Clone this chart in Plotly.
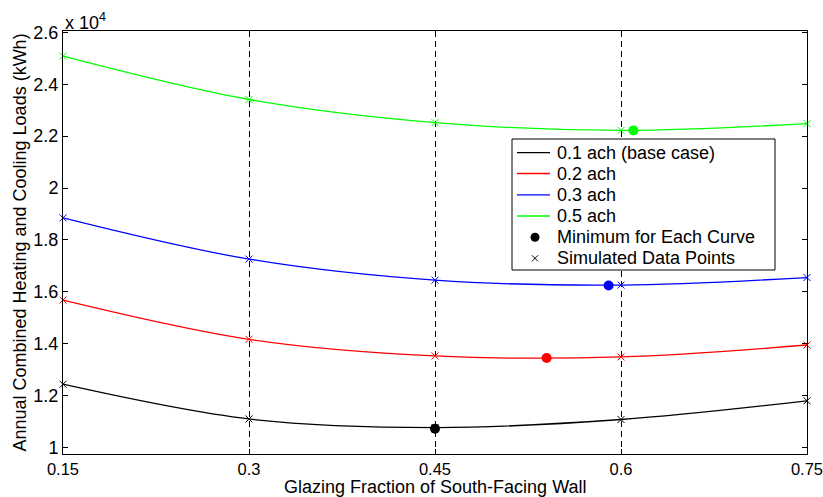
import plotly.graph_objects as go

glazing = [0.15, 0.30, 0.45, 0.60, 0.75]
load_01 = [1.244, 1.110, 1.077, 1.108, 1.180]
load_02 = [1.568, 1.417, 1.353, 1.349, 1.395]
load_03 = [1.885, 1.726, 1.645, 1.626, 1.655]
load_05 = [2.508, 2.341, 2.252, 2.222, 2.248]

min_x = [0.45, 0.54, 0.59, 0.61]
min_y = [1.072, 1.345, 1.624, 2.222]

names = ["0.1 ach (base case)", "0.2 ach", "0.3 ach", "0.5 ach"]
colors = ["#000000", "#FF0000", "#0000FF", "#00FF00"]
series = [load_01, load_02, load_03, load_05]
legend_extra = ["Minimum for Each Curve", "Simulated Data Points"]

x_ticks = [0.15, 0.3, 0.45, 0.6, 0.75]
x_ticktext = ["0.15", "0.3", "0.45", "0.6", "0.75"]
y_ticks = [1.0, 1.2, 1.4, 1.6, 1.8, 2.0, 2.2, 2.4, 2.6]
y_ticktext = ["1", "1.2", "1.4", "1.6", "1.8", "2", "2.2", "2.4", "2.6"]

FONT = "Liberation Sans, Arial, sans-serif"
FS = 18

# plot-area geometry (pixels)
W, H = 823, 497
L, R, T, B = 63, 16, 31, 43
PW, PH = W - L - R, H - T - B


def px(xp):
    return (xp - L) / PW


def py(yp):
    return (H - B - yp) / PH


fig = go.Figure()
for i, (nm, col, ys) in enumerate(zip(names, colors, series)):
    fig.add_trace(go.Scatter(x=glazing, y=ys, mode="lines", name=nm,
                             line=dict(color=col, width=1.3, shape="spline", smoothing=1.0),
                             showlegend=False))
    fig.add_trace(go.Scatter(x=glazing, y=ys, mode="markers", showlegend=False,
                             cliponaxis=False, name=legend_extra[1],
                             marker=dict(symbol="x-thin", size=7, color=col,
                                         line=dict(color=col, width=1)),
                             hoverinfo="skip"))
for i, col in enumerate(colors):
    fig.add_trace(go.Scatter(x=[min_x[i]], y=[min_y[i]], mode="markers",
                             name=legend_extra[0], showlegend=False,
                             marker=dict(symbol="circle", size=10, color=col)))

# ---- manual legend (MATLAB-style compact box) ----
shapes = []
annotations = []
box_l, box_r, box_t, box_b = 512, 775, 139, 270
shapes.append(dict(type="rect", xref="paper", yref="paper",
                   x0=px(box_l), x1=px(box_r), y0=py(box_b), y1=py(box_t),
                   line=dict(color="black", width=1), fillcolor="white", layer="above"))
row_y = [152.7, 173.5, 194.8, 216.0, 237.3, 258.3]
labels = names + legend_extra
for k, lab in enumerate(labels):
    yc = row_y[k]
    if k < 4:
        shapes.append(dict(type="line", xref="paper", yref="paper",
                           x0=px(517), x1=px(550), y0=py(yc), y1=py(yc),
                           line=dict(color=colors[k], width=1.3), layer="above"))
    elif k == 4:
        shapes.append(dict(type="circle", xref="paper", yref="paper",
                           x0=px(530.5), x1=px(539.5), y0=py(yc + 4.5), y1=py(yc - 4.5),
                           line=dict(color="black", width=0), fillcolor="black", layer="above"))
    else:
        for s in (-1, 1):
            shapes.append(dict(type="line", xref="paper", yref="paper",
                               x0=px(532), x1=px(538), y0=py(yc - 3 * s), y1=py(yc + 3 * s),
                               line=dict(color="black", width=1), layer="above"))
    annotations.append(dict(text=lab, xref="paper", yref="paper", x=px(555), y=py(yc),
                            xanchor="left", yanchor="middle", showarrow=False,
                            font=dict(family=FONT, size=FS, color="black")))

annotations.append(dict(text="x 10<sup>4</sup>", xref="paper", yref="paper", x=0.0, y=1.0,
                        xanchor="left", yanchor="bottom", showarrow=False,
                        font=dict(family=FONT, size=FS, color="black"), yshift=-4))
annotations.append(dict(text="Glazing Fraction of South-Facing Wall", xref="paper", yref="paper",
                        x=0.5, y=py(487), xanchor="center", yanchor="middle", showarrow=False,
                        font=dict(family=FONT, size=FS, color="black")))

fig.update_layout(
    width=W, height=H,
    margin=dict(l=L, r=R, t=T, b=B),
    paper_bgcolor="white", plot_bgcolor="white",
    font=dict(family=FONT, size=FS, color="black"),
    showlegend=False,
    xaxis=dict(range=[0.15, 0.75], tickvals=x_ticks, ticktext=x_ticktext,
               ticks="inside", ticklen=5, tickcolor="black", automargin=False,
               ticklabeloverflow="allow", tickfont=dict(size=16.5),
               showline=True, linecolor="black", linewidth=1, mirror="ticks",
               showgrid=True, gridcolor="black", griddash="6px,4px", gridwidth=1,
               zeroline=False),
    yaxis=dict(range=[0.975, 2.605], tickvals=y_ticks, ticktext=y_ticktext,
               ticks="inside", ticklen=5, tickcolor="black", automargin=False,
               ticklabeloverflow="allow",
               showline=True, linecolor="black", linewidth=1, mirror="ticks",
               showgrid=False, zeroline=False,
               title=dict(text="Annual Combined Heating and Cooling Loads (kWh)", standoff=2,
                          font=dict(size=FS))),
    shapes=shapes,
    annotations=annotations,
)

fig.write_html("out.html")
